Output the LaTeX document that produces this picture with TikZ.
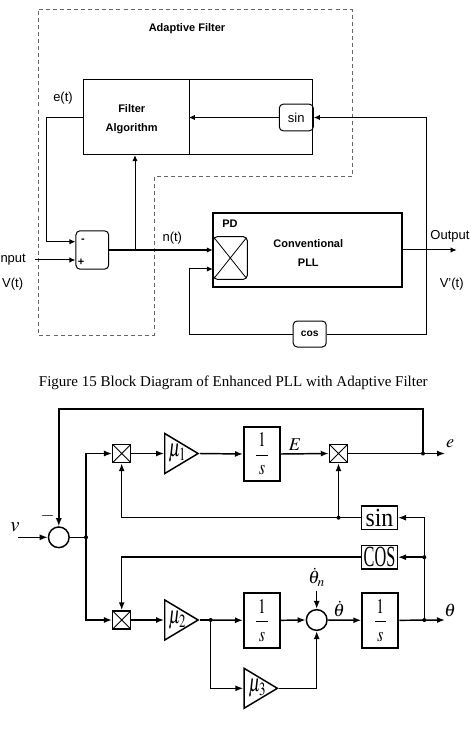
\documentclass[tikz,border=0pt]{standalone}
\usepackage{mathptmx}
\usepackage{fontspec}
\setmainfont{Liberation Serif}
\setsansfont{Liberation Sans}
\usetikzlibrary{arrows.meta,shapes.geometric}

\newcommand{\vst}[2][1.5]{\scalebox{1}[#1]{#2}}
\newcommand{\integ}{\vst[1.35]{$\displaystyle\frac{\,1\,}{\,s\,}$}}

\tikzset{every picture/.style={line width=0.75pt}}
\tikzset{
	sflab/.style={font=\sffamily\fontsize{9.75}{11}\selectfont, inner sep=1pt},
	sfbold/.style={font=\sffamily\bfseries\fontsize{8.25}{14.5}\selectfont, inner sep=1pt, align=center},
	blk/.style 2 args={draw, minimum width=#1, minimum height=#2, inner sep=0pt},
	rblk/.style 2 args={draw, rounded corners=3pt, minimum width=#1, minimum height=#2, inner sep=0pt},
	crossed/.style={path picture={\draw [line width=0.6pt] (path picture bounding box.north west) -- (path picture bounding box.south east) (path picture bounding box.north east) -- (path picture bounding box.south west);}},
	sarr/.style={-{Latex[length=4.5pt,width=4pt]}},
	bline/.style={line width=1.1pt},
	barr/.style={bline, -{Latex[length=6pt,width=4.5pt]}},
	bsum/.style={draw, circle, line width=1.1pt, minimum size=15.5pt, inner sep=0pt},
	mult/.style={draw, line width=1.1pt, minimum size=13.5pt, inner sep=0pt, crossed},
	gain/.style={draw, line width=1.1pt, isosceles triangle, isosceles triangle stretches, minimum width=30pt, minimum height=25pt, inner sep=0pt, anchor=apex},
	intbox/.style={draw, line width=1.5pt, minimum width=27pt, minimum height=41pt, inner sep=0pt, font=\fontsize{11.5}{13}\selectfont},
	fnbox/.style={draw, line width=1.1pt, minimum width=26.7pt, minimum height=17.5pt, inner sep=0pt},
	blab/.style={font=\fontsize{13.5}{15}\selectfont, inner sep=0pt},
	mulab/.style={font=\fontsize{13}{15}\selectfont, inner sep=0pt}}

\begin{document}
\begin{tikzpicture}[x=0.75pt,y=0.75pt,yscale=-1,xscale=1]
	\useasboundingbox (0,0) rectangle (474,737);

	%Shape: Dashed region [id:adaptive filter]
	\draw [color=gray!80!black, dash pattern=on 3pt off 2.3pt] (38.7,10) -- (352,10) -- (352,177) -- (154,177) -- (154,335) -- (38.7,335) -- cycle ;
	% Text Node
	\node [sfbold] (aftitle) at (187,29) {Adaptive Filter};

	%Shape: Rectangle [id:filter algorithm]
	\node [blk={79.5pt}{56pt}] (falg) at (136.3,117.3) {};
	\node [sfbold] (falgtxt) at (131.7,119.5) {Filter\\Algorithm};
	%Shape: Rectangle [id:filter right part]
	\node [blk={92.25pt}{56pt}] (fright) at (250.8,117.3) {};
	%Shape: Rounded Rect [id:sin]
	\node [rblk={25.5pt}{20pt}, sflab] (tsin) at (296.3,117.5) {sin};
	%Shape: Rounded Rect [id:cos]
	\node [rblk={24.75pt}{19.5pt}, font=\sffamily\bfseries\fontsize{7.7}{9}\selectfont] (tcos) at (309.7,334) {cos};
	%Shape: Rectangle [id:pll]
	\node [blk={141.75pt}{56pt}, line width=1.3pt] (pll) at (307.8,250) {};
	%Shape: Rounded Rect [id:pd]
	\node [rblk={25.5pt}{32pt}, crossed] (pd) at (230.3,258) {};
	\node [sfbold] (pdlab) at (230,223.3) {PD};
	\node [sfbold] (convlab) at (308.3,252.7) {Conventional\\PLL};
	%Shape: Rounded Rect [id:subtract]
	\node [rblk={24.5pt}{28.75pt}] (tsum) at (92.3,250) {};
	\node [sfbold] (minus) at (83,240.7) {-};
	\node [sfbold] (plus) at (81,262.7) {+};

	\coordinate (etturn) at (46,241.7);
	\coordinate (vin) at (35,260);
	\coordinate (nbr) at (135,250);
	\coordinate (vout) at (456.7,250);
	\coordinate (fbtop) at (426.7,117.5);
	\coordinate (pdin2) at (189.3,269);

	%Straight Lines
	\draw [sarr] (tsin.west) -- (tsin.west -| fright.west) ;
	\draw [sarr] (tcos.east) -| (fbtop) -- (tsin.east) ;
	\draw [sarr] (tcos.west) -| (pdin2) -- (pdin2 -| pd.west) ;
	\draw [sarr] (falg.west) -| (etturn) -- (etturn -| tsum.west) ;
	\draw [sarr] (vin) -- (vin -| tsum.west) ;
	\draw [sarr, line width=1.2pt] (tsum.east) -- (tsum.east -| pd.west) ;
	\draw [sarr] (nbr) -- (nbr |- falg.south) ;
	\draw [sarr] (pll.east) -- (vout) ;

	% Text Node
	\node [sflab] (etlab) at (63,97.7) {e(t)};
	% Text Node
	\node [sflab] (ntlab) at (172.3,237.7) {n(t)};
	% Text Node
	\node [sflab, anchor=west, inner sep=0pt] (inlab) at (0,260) {nput};
	% Text Node
	\node [sflab] (vtlab) at (12.7,284) {V(t)};
	% Text Node
	\node [sflab] (outlab) at (450,236.7) {Output};
	% Text Node
	\node [sflab] (vptlab) at (451.7,284) {V'(t)};

	% Text Node
	\node [font=\fontsize{11.25}{13}\selectfont] (caption) at (233.3,383.3) {Figure 15 Block Diagram of Enhanced PLL with Adaptive Filter};

	%Shape: Circle [id:input sum]
	\node [bsum] (bsum1) at (58.8,537.3) {};
	%Shape: Multipliers
	\node [mult] (bm1) at (121.7,453.5) {};
	\node [mult] (bm2) at (338.5,453.5) {};
	\node [mult] (bm3) at (121.7,620) {};
	%Shape: Gains
	\node [gain] (gain1) at (200,453.5) {};
	\node [gain] (gain2) at (200,620) {};
	\node [gain] (gain3) at (279.3,688.3) {};
	\node [mulab] (mu1lab) at (177.5,453.5) {\vst[1.45]{$\mu_1$}};
	\node [mulab] (mu2lab) at (177.5,620) {\vst[1.45]{$\mu_2$}};
	\node [mulab] (mu3lab) at (257.5,688.3) {\vst[1.45]{$\mu_3$}};
	%Shape: Integrators
	\node [intbox] (bint1) at (262,454) {\integ};
	\node [intbox] (bint2) at (262,620.3) {\integ};
	\node [intbox] (bint3) at (380.3,620.3) {\integ};
	%Shape: sin / cos
	\node [fnbox, font=\fontsize{17.8}{20}\selectfont] (bsin) at (379.5,517.7) {\vst[1.1]{sin}};
	\node [fnbox, font=\fontsize{12.2}{14}\selectfont] (bcos) at (379.5,557.2) {\vst[1.8]{COS}};
	%Shape: Circle [id:theta sum]
	\node [bsum] (bsum2) at (316.7,620) {};

	\coordinate (vin2) at (18.3,537.3);
	\coordinate (split) at (86,537.3);
	\coordinate (edot) at (423,453.5);
	\coordinate (fbtop2) at (58.8,409);
	\coordinate (eout) at (445,453.5);
	\coordinate (sindot) at (338.5,517.7);
	\coordinate (thdot) at (424.3,620);
	\coordinate (cosdot) at (424.3,557.2);
	\coordinate (g2dot) at (210.7,620);
	\coordinate (thnin) at (316.7,591);
	\coordinate (thout) at (445,620);

	%Straight Lines
	\draw [barr] (vin2) -- (bsum1.west) ;
	\draw [barr] (edot) |- (fbtop2) -- (bsum1.north) ;
	\draw [bline] (bsum1.east) -- (split) ;
	\draw [barr] (split) |- (bm1.west) ;
	\draw [barr] (split) |- (bm3.west) ;
	\draw [barr] (bm1.east) -- (gain1.west) ;
	\draw [barr] (gain1.apex) -- (bint1.west) ;
	\draw [barr] (bint1.east) -- (bm2.west) ;
	\draw [barr] (bm2.east) -- (eout) ;
	\draw [bline] (bsin.west) -- (sindot) ;
	\draw [barr] (sindot) -| (bm1.south) ;
	\draw [barr] (sindot) -- (bm2.south) ;
	\draw [barr] (thdot) |- (bsin.east) ;
	\draw [barr] (cosdot) -- (bcos.east) ;
	\draw [barr] (bcos.west) -| (bm3.north) ;
	\draw [barr] (bm3.east) -- (gain2.west) ;
	\draw [bline] (gain2.apex) -- (g2dot) ;
	\draw [barr] (g2dot) -- (bint2.west) ;
	\draw [barr] (g2dot) |- (gain3.west) ;
	\draw [barr] (gain3.apex) -| (bsum2.south) ;
	\draw [barr] (bint2.east) -- (bsum2.west) ;
	\draw [barr] (thnin) -- (bsum2.north) ;
	\draw [barr] (bsum2.east) -- (bint3.west) ;
	\draw [barr] (bint3.east) -- (thout) ;

	%Shape: Dots
	\foreach \d in {split,edot,sindot,cosdot,thdot,g2dot}
		\fill (\d) circle (2) ;

	% Text Node
	\node [blab, font=\fontsize{15.5}{17}\selectfont] (vlab) at (15,526.7) {$v$};
	% Text Node
	\node [blab] (minuslab) at (47.7,516) {$-$};
	% Text Node
	\node [blab] (Elab) at (295,444.3) {$E$};
	% Text Node
	\node [blab] (elab) at (450,443.3) {$e$};
	% Text Node
	\node [blab] (thnlab) at (316.7,577) {$\dot\theta_n$};
	% Text Node
	\node [blab] (thdlab) at (339,609) {$\dot\theta$};
	% Text Node
	\node [blab] (thlab) at (450,610) {$\theta$};

\end{tikzpicture}
\end{document}
